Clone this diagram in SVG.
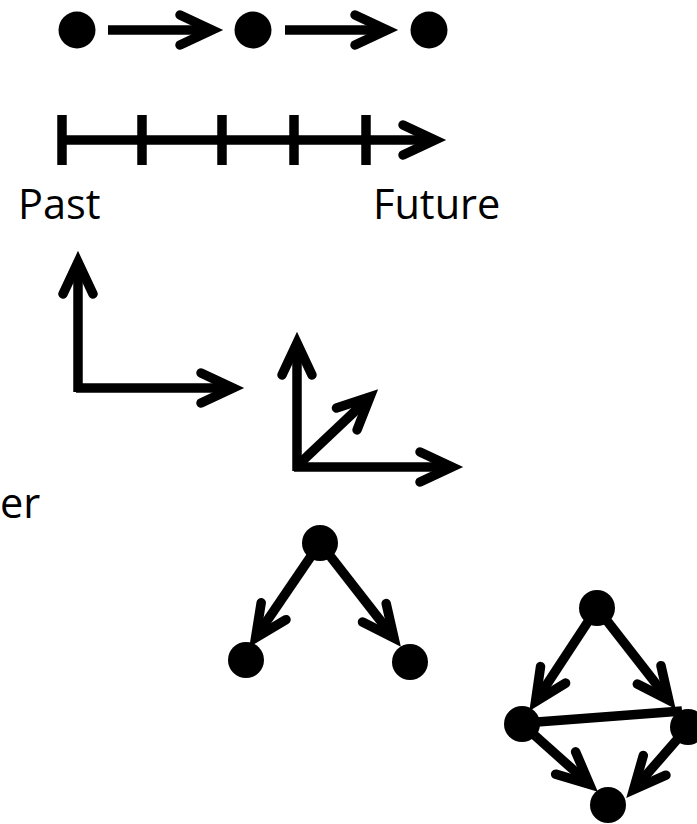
<svg xmlns="http://www.w3.org/2000/svg" width="697" height="824" viewBox="0 0 697 824">
<defs>
<style>
.ln{fill:none;stroke:#000;stroke-width:9.5;stroke-linecap:butt}
.arr{marker-end:url(#chev)}
.dot{fill:#000}
.lbl{font-family:"Open Sans","Liberation Sans",sans-serif;font-size:41.5px;fill:#000}
</style>
<marker id="chev" markerUnits="userSpaceOnUse" markerWidth="80" markerHeight="80" viewBox="-50 -40 80 80" refX="0" refY="0" orient="auto" overflow="visible">
<path d="M-32,-15 L0,0 L-32,15" fill="none" stroke="#000" stroke-width="9.5" stroke-linecap="round" stroke-linejoin="miter"/>
</marker>
</defs>
<rect width="697" height="824" fill="#fff"/>
<g id="connectors">
<line class="ln arr" x1="108" y1="30" x2="212" y2="30"/>
<line class="ln arr" x1="285" y1="30" x2="387" y2="30"/>
<line class="ln arr" x1="62" y1="140" x2="435" y2="140"/>
<line class="ln" x1="62" y1="115" x2="62" y2="165"/>
<line class="ln" x1="142" y1="115" x2="142" y2="165"/>
<line class="ln" x1="222" y1="115" x2="222" y2="165"/>
<line class="ln" x1="294" y1="115" x2="294" y2="165"/>
<line class="ln" x1="366" y1="115" x2="366" y2="165"/>
<line class="ln arr" x1="78" y1="392" x2="78" y2="262"/>
<line class="ln arr" x1="76" y1="388" x2="233" y2="388"/>
<line class="ln arr" x1="297" y1="471" x2="297" y2="343"/>
<line class="ln arr" x1="294" y1="467" x2="452" y2="467"/>
<line class="ln arr" x1="297" y1="466" x2="370" y2="397"/>
<line class="ln arr" x1="320" y1="543" x2="255.6" y2="637.7"/>
<line class="ln arr" x1="320" y1="543" x2="394" y2="638"/>
<line class="ln arr" x1="597" y1="608" x2="535.5" y2="701.6"/>
<line class="ln arr" x1="597" y1="608" x2="668.8" y2="700.1"/>
<line class="ln" x1="524" y1="723" x2="682" y2="711"/>
<line class="ln arr" x1="522" y1="724" x2="589.5" y2="784.3"/>
<line class="ln arr" x1="688" y1="727" x2="633.6" y2="789.5"/>
</g>
<g id="n1"><circle class="dot" cx="77" cy="30" r="18.5"/></g>
<g id="n2"><circle class="dot" cx="253" cy="30" r="18.5"/></g>
<g id="n3"><circle class="dot" cx="429" cy="30" r="18.5"/></g>
<g id="label-past"><text class="lbl" x="18" y="219">Past</text></g>
<g id="label-future"><text class="lbl" x="373" y="219">Future</text></g>
<g id="label-er"><text class="lbl" x="0" y="518">er</text></g>
<g id="t1"><circle class="dot" cx="320" cy="543" r="18"/></g>
<g id="t2"><circle class="dot" cx="246" cy="660" r="18"/></g>
<g id="t3"><circle class="dot" cx="410" cy="662" r="18"/></g>
<g id="d1"><circle class="dot" cx="597" cy="608" r="18"/></g>
<g id="d2"><circle class="dot" cx="522" cy="724" r="18"/></g>
<g id="d3"><circle class="dot" cx="688" cy="727" r="18"/></g>
<g id="d4"><circle class="dot" cx="608" cy="805" r="18"/></g>
</svg>
